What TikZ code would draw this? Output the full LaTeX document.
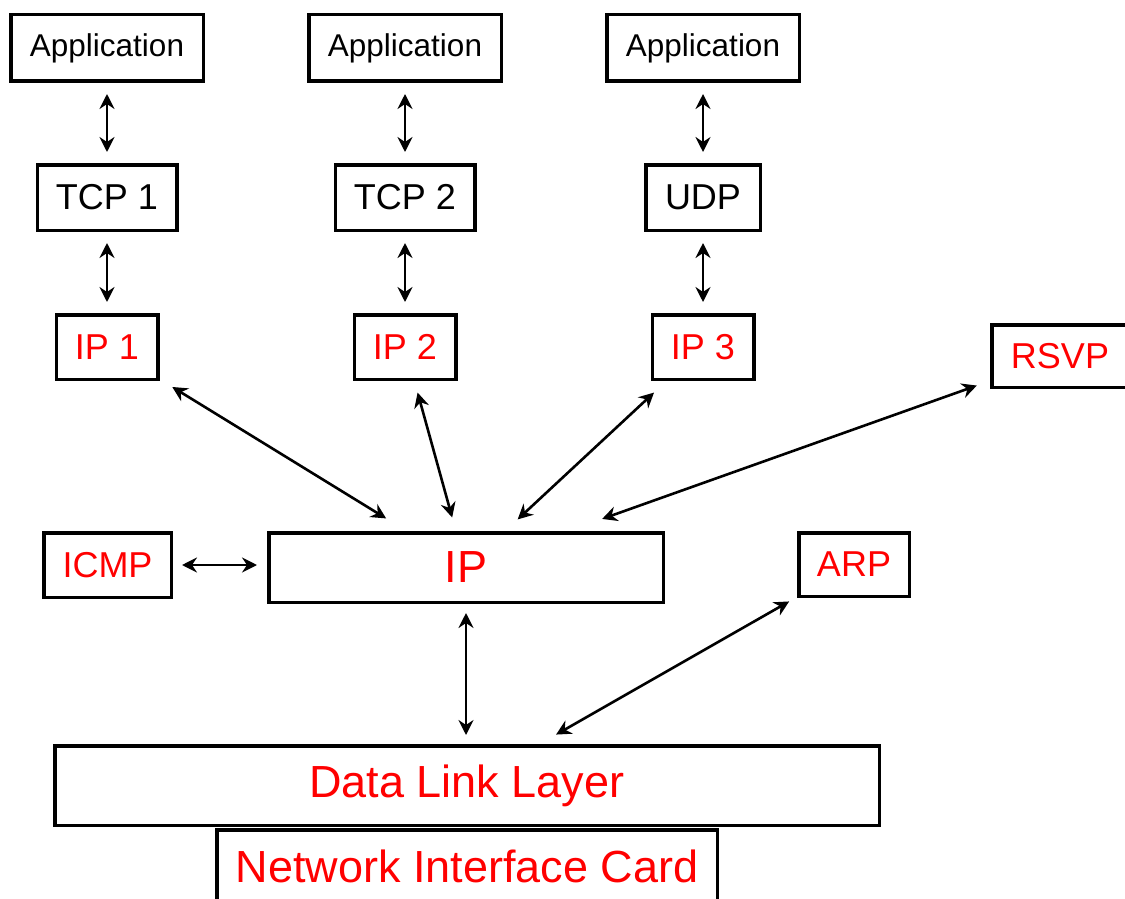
\documentclass[tikz,border=0pt]{standalone}
\usepackage{fontspec}
\setmainfont{Liberation Sans}
\usetikzlibrary{arrows.meta}
\begin{document}
\begin{tikzpicture}[x=1pt,y=-1pt,
  box/.style={draw, line width=3.5pt, inner sep=0pt, anchor=center, text=black},
  redbox/.style={box, text=red},
  appfont/.style={font=\fontsize{31.5}{38}\selectfont},
  midfont/.style={font=\fontsize{36}{43}\selectfont},
  bigfont/.style={font=\fontsize{45}{54}\selectfont},
  link/.style={line width=2.6pt,
    {Stealth[length=15pt,width=15pt,inset=5pt]}-{Stealth[length=15pt,width=15pt,inset=5pt]}},
]
\useasboundingbox (0,0) rectangle (1125,899);

% application layer
\node[box, appfont, minimum width=192.5pt, minimum height=66.5pt] (app1) at (107,48) {Application};
\node[box, appfont, minimum width=192.5pt, minimum height=66.5pt] (app2) at (405,48) {Application};
\node[box, appfont, minimum width=192.5pt, minimum height=66.5pt] (app3) at (703,48) {Application};

% transport layer
\node[box, midfont, minimum width=139.5pt, minimum height=65.5pt] (tcp1) at (107,197.5) {TCP 1};
\node[box, midfont, minimum width=139.5pt, minimum height=65.5pt] (tcp2) at (405,197.5) {TCP 2};
\node[box, midfont, minimum width=114.5pt, minimum height=65.5pt] (udp) at (703,197.5) {UDP};

% per-connection IP instances
\node[redbox, midfont, minimum width=101.5pt, minimum height=64.5pt] (ip1) at (107,347) {IP 1};
\node[redbox, midfont, minimum width=101.5pt, minimum height=64.5pt] (ip2) at (405,347) {IP 2};
\node[redbox, midfont, minimum width=101.5pt, minimum height=64.5pt] (ip3) at (703,347) {IP 3};
\node[redbox, midfont, minimum width=136.5pt, minimum height=62.5pt] (rsvp) at (1060,356) {RSVP};

% network layer
\node[redbox, midfont, minimum width=127.5pt, minimum height=64.5pt] (icmp) at (107.5,565) {ICMP};
\node[redbox, bigfont, minimum width=394.5pt, minimum height=69.5pt] (ip) at (466,567.5) {IP};
\node[redbox, midfont, minimum width=110.5pt, minimum height=63.5pt] (arp) at (854,564.5) {ARP};

% link layer and hardware
\node[redbox, bigfont, minimum width=824.5pt, minimum height=79.5pt] (dll) at (467,785.5) {Data Link Layer};
\node[redbox, bigfont, minimum width=500.5pt, minimum height=72.5pt] (nic) at (467,866) {Network Interface Card};

% vertical links between stacked layers
\draw[link, shorten <=11pt, shorten >=11pt] (app1.south) -- (app1.south |- tcp1.north);
\draw[link, shorten <=11pt, shorten >=11pt] (app2.south) -- (app2.south |- tcp2.north);
\draw[link, shorten <=11pt, shorten >=11pt] (app3.south) -- (app3.south |- udp.north);
\draw[link, shorten <=11pt, shorten >=11pt] (tcp1.south) -- (tcp1.south |- ip1.north);
\draw[link, shorten <=11pt, shorten >=11pt] (tcp2.south) -- (tcp2.south |- ip2.north);
\draw[link, shorten <=11pt, shorten >=11pt] (udp.south) -- (udp.south |- ip3.north);

% links into the central IP module
\draw[link, shorten <=15pt, shorten >=24pt] (ip1) -- (ip);
\draw[link, shorten <=12pt, shorten >=14pt] (ip2) -- (ip);
\draw[link, shorten <=17pt, shorten >=17pt] (ip3) -- (ip);
\draw[link, shorten <=14pt, shorten >=36pt] (rsvp) -- (ip);
\draw[link, shorten <=9pt, shorten >=10pt] (icmp.east) -- (icmp.east -| ip.west);

% links down to the data link layer
\draw[link, shorten <=9pt, shorten >=9pt] (ip.south) -- (ip.south |- dll.north);
\draw[link, shorten <=9pt, shorten >=19pt] (arp) -- (dll);
\end{tikzpicture}
\end{document}
